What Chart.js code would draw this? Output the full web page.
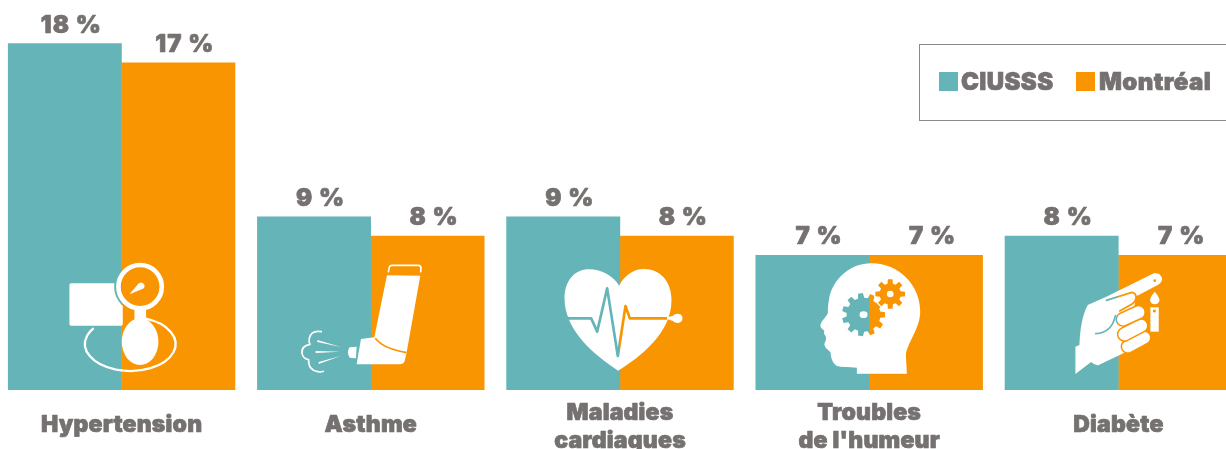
<!DOCTYPE html>
<html lang="fr">
<head>
<meta charset="utf-8">
<title>Prévalence des maladies chroniques</title>
<script src="https://cdn.jsdelivr.net/npm/chart.js@4"></script>
<style>
  html, body { margin: 0; padding: 0; background: #fff; overflow: hidden; width: 1226px; height: 449px; }
  /* the last bar runs past the right edge of the picture, so the canvas does too */
  #wrap { position: absolute; left: -3.3px; top: 0; width: 1246px; height: 449px; }
  #legend { position: absolute; left: 918.5px; top: 44px; width: 400px; height: 75px; border: 1.5px solid #8a8a8a; }
  #legend i { position: absolute; top: 27px; width: 19px; height: 19px; }
  #legend span { position: absolute; top: 19px; font: 900 24px Inter, sans-serif; letter-spacing: 0.4px; -webkit-text-stroke: 0.7px #767171; color: #767171; line-height: 36px; }
</style>
</head>
<body>
<div id="wrap"><canvas id="chart"></canvas></div>
<div id="legend"></div>
<script>
const categories = [['Hypertension'], ['Asthme'], ['Maladies', 'cardiaques'], ['Troubles', "de l'humeur"], ['Diabète']];
const seriesNames = ['CIUSSS', 'Montréal'];
const ciusss = [18, 9, 9, 7, 8];
const montreal = [17, 8, 8, 7, 7];

const TEAL = '#65B4B8';
const ORANGE = '#F99500';
const GREY = '#767171';

// Legend
const legend = document.getElementById('legend');
[[19.5, 41.5, TEAL], [156.5, 179.5, ORANGE]].forEach(([boxX, textX, color], i) => {
  legend.innerHTML += `<i style="left:${boxX}px;background:${color}"></i><span style="left:${textX}px">${seriesNames[i]}</span>`;
});

// colour of the bars behind an icon: teal left of the split, orange right of it
function behind(ctx, split) {
  const g = ctx.createLinearGradient(split - 0.5, 0, split + 0.5, 0);
  g.addColorStop(0, TEAL);
  g.addColorStop(0.5, TEAL);
  g.addColorStop(0.5, ORANGE);
  g.addColorStop(1, ORANGE);
  return g;
}

function gearPath(ctx, cx, cy, rOut, rIn, teeth) {
  ctx.beginPath();
  const step = Math.PI * 2 / teeth;
  for (let i = 0; i < teeth; i++) {
    const a = i * step;
    [[rIn, -0.32], [rOut, -0.2], [rOut, 0.2], [rIn, 0.32]].forEach(([r, k]) => {
      ctx.lineTo(cx + r * Math.cos(a + k * step), cy + r * Math.sin(a + k * step));
    });
  }
  ctx.closePath();
}

function capsule(ctx, bg, x1, y1, x2, y2, r) {
  ctx.lineCap = 'round';
  ctx.beginPath();
  ctx.moveTo(x1, y1);
  ctx.lineTo(x2, y2);
  ctx.strokeStyle = bg;
  ctx.lineWidth = r * 2 + 9;
  ctx.stroke();
  ctx.strokeStyle = '#fff';
  ctx.lineWidth = r * 2;
  ctx.stroke();
}

// Icons are traced at 3x; splitX / baseY say where the bar split and the baseline fall in that tracing
const icons = [
  { splitX: 364.5, baseY: 450, draw(ctx, bg) {
    ctx.fillStyle = '#fff';
    ctx.beginPath();
    ctx.roundRect(208, 130, 160, 127, 5);
    ctx.fill();
    // tube
    ctx.strokeStyle = '#fff';
    ctx.lineWidth = 7;
    ctx.beginPath();
    ctx.ellipse(390.5, 312, 136, 81, 0, -1.25, 3.77);
    ctx.stroke();
    // gauge
    ctx.fillStyle = bg;
    ctx.beginPath();
    ctx.arc(420, 140, 78, 0, Math.PI * 2);
    ctx.fill();
    ctx.lineWidth = 14;
    ctx.beginPath();
    ctx.arc(420, 140, 65, 0, Math.PI * 2);
    ctx.stroke();
    ctx.fillStyle = '#fff';
    ctx.beginPath();
    ctx.moveTo(388, 163);
    ctx.lineTo(416, 130);
    ctx.arc(423, 138, 10, -2.2, 1.2);
    ctx.closePath();
    ctx.fill();
    ctx.fillRect(403, 200, 35, 45);
    ctx.beginPath();
    ctx.ellipse(420, 305, 55, 70, 0, 0, Math.PI * 2);
    ctx.fill();
  } },
  { splitX: 226.5, baseY: 405, draw(ctx, bg) {
    ctx.fillStyle = '#fff';
    ctx.strokeStyle = '#fff';
    ctx.lineJoin = 'round';
    // cap
    ctx.lineWidth = 5;
    ctx.stroke(new Path2D('M279,52 L282,37 Q283,31 291,31 L369,31 Q377,31 377,39 L376,52'));
    // body and mouthpiece
    ctx.fill(new Path2D('M275,61 L375,62 L333,298 L328,318 Q325,328 312,328 L184,328 L197,252 L237,247 Z'));
    ctx.strokeStyle = bg;
    ctx.lineWidth = 5;
    ctx.stroke(new Path2D('M240,250 Q265,282 334,293'));
    // nozzle
    ctx.fill(new Path2D('M163,277 L184,275 L182,310 L163,308 Q158,300 158,292 Q158,282 163,277 Z'));
    // spray
    ctx.fill(new Path2D('M66,255 L137,276 L66,261 Z M61,288 L134,290 L61,294 Z M70,327 L136,303 L70,321 Z'));
    ctx.strokeStyle = '#fff';
    ctx.lineWidth = 5;
    ctx.lineCap = 'round';
    ctx.stroke(new Path2D('M78,230 Q48,224 42,250 Q40,262 44,268 Q18,272 20,295 Q24,312 40,314 Q38,345 68,350 Q78,352 84,349'));
  } },
  { splitX: 358.5, baseY: 450, draw(ctx, bg) {
    ctx.fillStyle = '#fff';
    ctx.fill(new Path2D('M353,392 C280,345 192,270 192,175 C192,120 225,88 265,88 C305,88 340,110 356,137 C370,110 395,87 430,87 C480,87 513,125 513,180 C513,280 420,350 353,392 Z'));
    ctx.strokeStyle = bg;
    ctx.lineWidth = 8;
    ctx.lineJoin = 'round';
    ctx.stroke(new Path2D('M200,235 L272,235 L290,275 L320,145 L352,348 L375,198 L388,235 L500,235'));
    ctx.fill(new Path2D('M500,232 L516,228 Q522,221 532,221 Q546,222 546,235 Q546,248 532,249 Q522,249 516,242 L500,238 Z'));
  } },
  { splitX: 162, baseY: 405, draw(ctx, bg) {
    ctx.fillStyle = '#fff';
    ctx.fill(new Path2D('M125,356 L125,338 C100,336 80,337 65,333 C52,325 47,310 46,292 C40,285 30,280 28,270 C26,262 35,258 32,245 C28,238 24,235 28,228 C22,222 14,218 16,210 C18,198 32,188 38,175 C38,165 38,150 42,130 C48,90 90,25 170,25 C250,25 315,90 315,170 C315,220 275,265 272,300 L275,356 Z'));
    ctx.fillStyle = bg;
    gearPath(ctx, 145, 179, 65, 51, 11);
    ctx.fill();
    ctx.fillStyle = '#fff';
    ctx.beginPath();
    ctx.ellipse(145, 179, 12, 10, 0, 0, Math.PI * 2);
    ctx.fill();
    gearPath(ctx, 225, 117, 45, 32, 8);
    ctx.strokeStyle = '#fff';
    ctx.lineWidth = 8;
    ctx.lineJoin = 'round';
    ctx.stroke();
    ctx.fillStyle = ORANGE;
    ctx.fill();
    ctx.fillStyle = '#fff';
    ctx.beginPath();
    ctx.arc(225, 117, 10, 0, Math.PI * 2);
    ctx.fill();
  } },
  { splitX: 144, baseY: 375, draw(ctx, bg) {
    ctx.fillStyle = '#fff';
    ctx.fill(new Path2D('M15,327 L15,245 L27,240 Q30,160 52,120 L108,95 L250,25 Q270,22 275,40 Q276,52 262,60 L195,95 L190,150 L165,262 L85,300 Q76,303 62,291 Z'));
    // index finger outline
    ctx.strokeStyle = bg;
    ctx.lineWidth = 5;
    ctx.lineCap = 'round';
    ctx.stroke(new Path2D('M108,106 L184,82 Q198,84 197,98 Q196,110 185,117 L148,138'));
    ctx.stroke(new Path2D('M76,206 Q124,204 135,152'));
    capsule(ctx, bg, 172, 245, 222, 218, 17);
    capsule(ctx, bg, 162, 208, 212, 182, 18);
    capsule(ctx, bg, 158, 163, 204, 142, 18);
    ctx.fillStyle = ORANGE;
    ctx.beginPath();
    ctx.arc(253, 47, 4, 0, Math.PI * 2);
    ctx.fill();
    // drop of blood and vial
    ctx.fillStyle = '#fff';
    ctx.fill(new Path2D('M253,80 Q268,98 267,106 Q265,118 253,118 Q241,118 239,106 Q238,98 253,80 Z'));
    ctx.fillRect(240, 127, 25, 73);
    ctx.fillStyle = ORANGE;
    ctx.fillRect(248, 134, 8, 8);
  } }
];

// heavy text: Inter 900 is still a bit lighter than the reference, so stroke it too
function heavyText(ctx, text, x, y) {
  ctx.fillText(text, x, y);
  ctx.strokeText(text, x, y);
}

const labelsAndIcons = {
  id: 'labelsAndIcons',
  afterDatasetsDraw(chart) {
    const ctx = chart.ctx;
    const x = chart.scales.x;
    const y = chart.scales.y;
    const base = y.getPixelForValue(0);

    // icons over each pair of bars
    icons.forEach((icon, i) => {
      ctx.save();
      ctx.translate(x.getPixelForValue(i), base);
      ctx.scale(1 / 3, 1 / 3);
      ctx.translate(-icon.splitX, -icon.baseY);
      icon.draw(ctx, behind(ctx, icon.splitX));
      ctx.restore();
    });

    ctx.save();
    ctx.fillStyle = GREY;
    ctx.strokeStyle = GREY;
    ctx.lineWidth = 0.7;
    ctx.lineJoin = 'round';
    ctx.textAlign = 'center';
    ctx.textBaseline = 'alphabetic';

    // value labels sit a little right of the bar centres
    ctx.font = '900 24px Inter, sans-serif';
    ctx.letterSpacing = '1px';
    chart.data.datasets.forEach((ds, d) => {
      chart.getDatasetMeta(d).data.forEach((bar, i) => {
        heavyText(ctx, ds.data[i] + ' %', bar.x + 6.5, bar.y - 11);
      });
    });

    // category labels, centred as a block under the bars
    ctx.font = '900 23px Inter, sans-serif';
    ctx.letterSpacing = '0.2px';
    categories.forEach((lines, i) => {
      const first = base + 42 - (lines.length - 1) * 12;
      lines.forEach((line, l) => heavyText(ctx, line, x.getPixelForValue(i), first + l * 28));
    });
    ctx.restore();
  }
};

new Chart(document.getElementById('chart'), {
  type: 'bar',
  data: {
    labels: categories,
    datasets: [
      { label: seriesNames[0], data: ciusss, backgroundColor: TEAL },
      { label: seriesNames[1], data: montreal, backgroundColor: ORANGE }
    ]
  },
  options: {
    responsive: true,
    maintainAspectRatio: false,
    animation: false,
    layout: { padding: { top: 5, bottom: 59 } },
    datasets: { bar: { categoryPercentage: 0.911, barPercentage: 1, inflateAmount: 0.2 } },
    plugins: { legend: { display: false }, tooltip: { enabled: false } },
    scales: {
      x: { display: false },
      y: { display: false, min: 0, max: 20 }
    }
  },
  plugins: [labelsAndIcons]
});
</script>
</body>
</html>
